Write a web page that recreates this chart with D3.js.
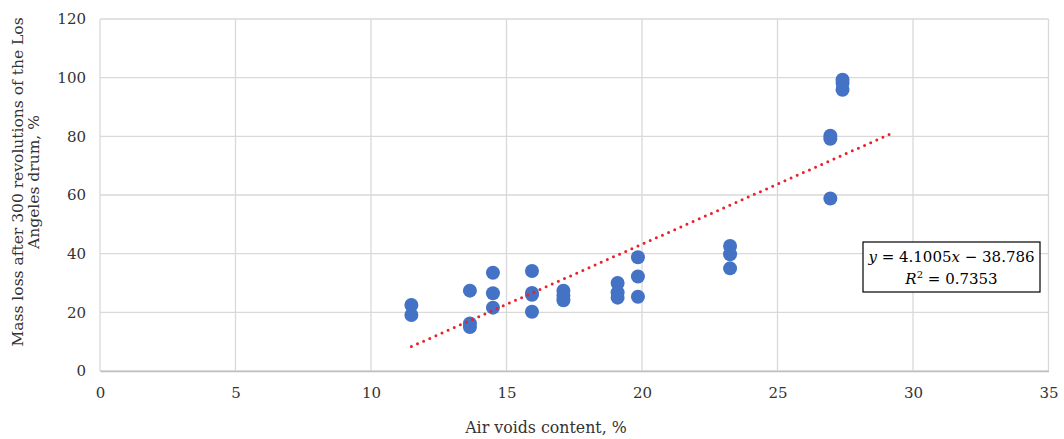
<!DOCTYPE html>
<html>
<head>
<meta charset="utf-8">
<script src="https://cdn.jsdelivr.net/npm/d3@7"></script>
<style>
  html, body { margin: 0; padding: 0; background: #fff; }
  svg { display: block; }
  text { font-family: "DejaVu Serif", serif; fill: #333; }
</style>
</head>
<body>
<svg id="chart" width="1064" height="439"></svg>
<script>
// Air voids content (%) and matching mass loss after 300 LA drum revolutions (%)
const airVoids = [
  11.49, 11.49,
  13.65, 13.65, 13.65,
  14.5, 14.5, 14.5,
  15.94, 15.94, 15.94, 15.94,
  17.1, 17.1, 17.1,
  19.1, 19.1, 19.1,
  19.85, 19.85, 19.85,
  23.25, 23.25, 23.25,
  26.95, 26.95, 26.95,
  27.4, 27.4, 27.4
];
const massLoss = [
  22.5, 19.1,
  27.4, 16.2, 15.0,
  33.5, 26.5, 21.6,
  34.1, 26.6, 26.0, 20.2,
  27.4, 25.7, 24.1,
  30.0, 26.8, 25.0,
  38.8, 32.2, 25.3,
  42.6, 39.8, 35.0,
  80.2, 79.2, 58.8,
  99.3, 98.2, 95.9
];

// Linear trendline y = slope*x + intercept, with forward forecast
const slope = 4.1005;
const intercept = -38.786;
const rSquared = 0.7353;
const trendEnd = 29.2;

const xTicks = [0, 5, 10, 15, 20, 25, 30, 35];
const yTicks = [0, 20, 40, 60, 80, 100, 120];

const xTitle = "Air voids content, %";
const yTitleLines = ["Mass loss after 300 revolutions of the Los", "Angeles drum, %"];

const svg = d3.select("#chart");
const m = { left: 100, right: 1048.5, top: 19, bottom: 371 };

const x = d3.scaleLinear().domain([0, 35]).range([m.left, m.right]);
const y = d3.scaleLinear().domain([0, 120]).range([m.bottom, m.top]);

// Gridlines
const grid = svg.append("g");
grid.selectAll("line.v").data(xTicks).join("line")
  .attr("x1", d => x(d)).attr("x2", d => x(d))
  .attr("y1", m.top).attr("y2", m.bottom)
  .attr("stroke", "#d9d9d9").attr("stroke-width", 1.3);
grid.selectAll("line.h").data(yTicks).join("line")
  .attr("x1", m.left).attr("x2", m.right)
  .attr("y1", d => y(d)).attr("y2", d => y(d))
  .attr("stroke", "#d9d9d9").attr("stroke-width", 1.3);

// Axes (labels only; lines drawn as grid)
const xAxis = svg.append("g")
  .attr("transform", `translate(0,${m.bottom})`)
  .call(d3.axisBottom(x).tickValues(xTicks).tickSize(0).tickPadding(16));
xAxis.select(".domain").attr("stroke", "#bfbfbf").attr("stroke-width", 1.3);
xAxis.selectAll("text").style("font-size", "15px").attr("fill", "#333");

const yAxis = svg.append("g")
  .attr("transform", `translate(${m.left},0)`)
  .call(d3.axisLeft(y).tickValues(yTicks).tickSize(0).tickPadding(14));
yAxis.select(".domain").remove();
yAxis.selectAll("text").style("font-size", "15px").attr("fill", "#333");

// Axis titles
svg.append("text")
  .attr("x", 546).attr("y", 433)
  .attr("text-anchor", "middle").style("font-size", "15.8px")
  .text(xTitle);

const yt = svg.append("text")
  .attr("transform", `translate(23,182) rotate(-90)`)
  .attr("text-anchor", "middle").style("font-size", "15.5px");
yTitleLines.forEach((t, i) => {
  yt.append("tspan").attr("x", 0).attr("dy", i === 0 ? 0 : 16).text(t);
});

// Data points
const pts = airVoids.map((v, i) => ({ x: v, y: massLoss[i] }));
svg.append("g").selectAll("circle").data(pts).join("circle")
  .attr("cx", d => x(d.x)).attr("cy", d => y(d.y))
  .attr("r", 7).attr("fill", "#4472c4");

// Trendline (dotted red)
const xMin = d3.min(airVoids);
const trend = [xMin, trendEnd].map(v => ({ x: v, y: slope * v + intercept }));
svg.append("path")
  .datum(trend)
  .attr("d", d3.line().x(d => x(d.x)).y(d => y(d.y)))
  .attr("fill", "none").attr("stroke", "#e8212a")
  .attr("stroke-width", 3).attr("stroke-linecap", "round")
  .attr("stroke-dasharray", "0 6.7");

// Equation label
const bx = 863, by = 242, bw = 177, bh = 50;
svg.append("rect").attr("x", bx).attr("y", by).attr("width", bw).attr("height", bh)
  .attr("fill", "#fff").attr("stroke", "#000").attr("stroke-width", 1.2);
const eq = svg.append("text").attr("x", bx + bw / 2).attr("y", by + 20)
  .attr("text-anchor", "middle").style("font-size", "15px").style("fill", "#000");
eq.append("tspan").attr("font-style", "italic").text("y");
eq.append("tspan").text(` = ${slope}`);
eq.append("tspan").attr("font-style", "italic").text("x");
eq.append("tspan").text(` \u2212 ${Math.abs(intercept)}`);
const r2 = svg.append("text").attr("x", bx + bw / 2).attr("y", by + 42)
  .attr("text-anchor", "middle").style("font-size", "15px").style("fill", "#000");
r2.append("tspan").attr("font-style", "italic").text("R");
r2.append("tspan").attr("dy", -6).style("font-size", "10px").text("2");
r2.append("tspan").attr("dy", 6).text(` = ${rSquared}`);
</script>
</body>
</html>
